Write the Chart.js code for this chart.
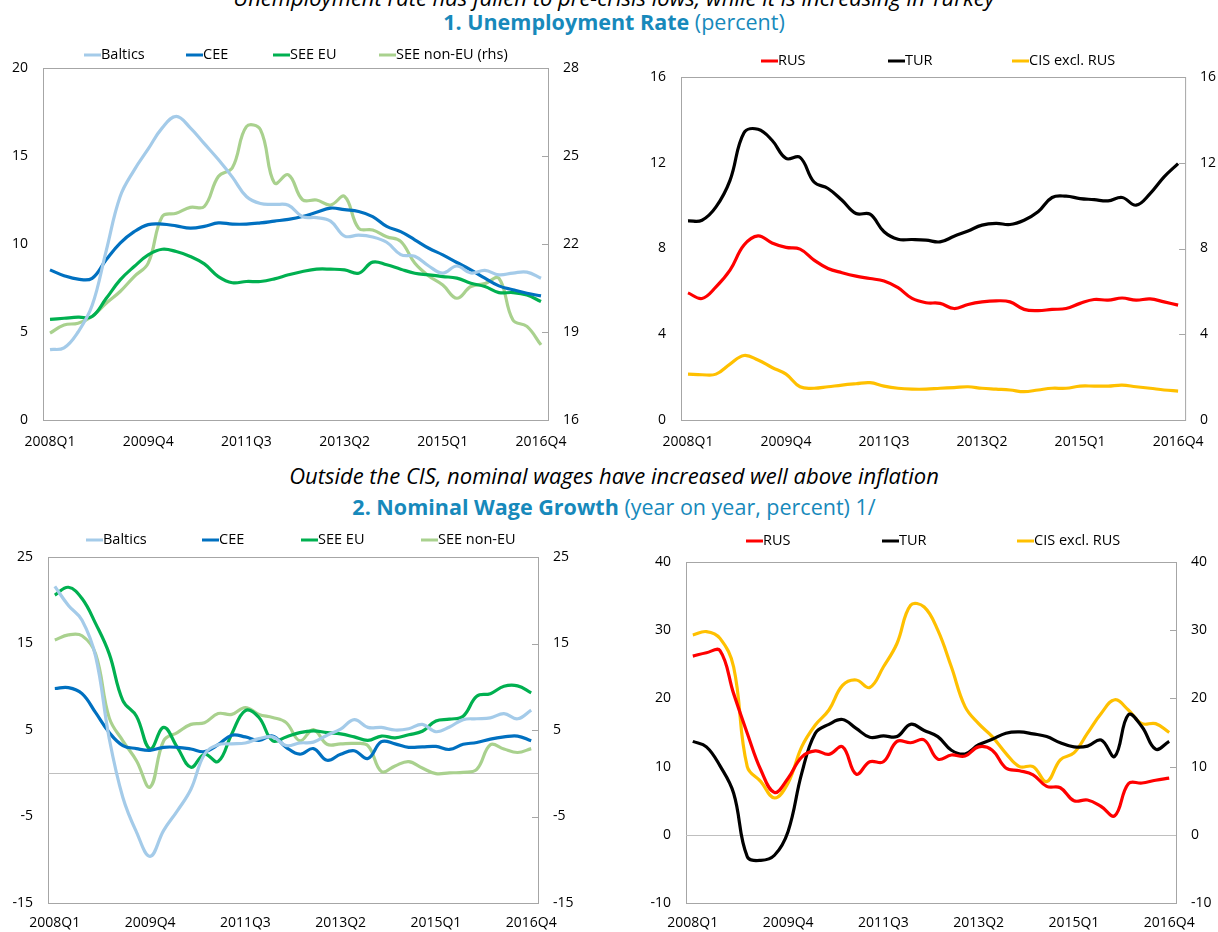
<!DOCTYPE html>
<html lang="en">
<head>
<meta charset="UTF-8" />
<title>Unemployment and Nominal Wage Growth</title>
<script src="https://cdn.jsdelivr.net/npm/chart.js"></script>
<style>
  body { margin: 0; width: 1218px; height: 932px; position: relative; overflow: hidden; background: #fff; font-family: "Open Sans", sans-serif; }
  .txt { position: absolute; left: 0; width: 1228px; text-align: center; line-height: 20px; white-space: nowrap; }
  .sub { font-style: italic; color: #000; font-size: 22px; }
  .ttl { color: #1789bb; font-size: 21.5px; }
  .box { position: absolute; }
</style>
</head>
<body>

<div class="txt sub" style="top:-13px">Unemployment rate has fallen to pre-crisis lows, while it is increasing in Turkey</div>
<div class="txt ttl" style="top:12px"><b>1. Unemployment Rate</b> (percent)</div>
<div class="txt sub" style="top:465px">Outside the CIS, nominal wages have increased well above inflation</div>
<div class="txt ttl" style="top:497px"><b>2. Nominal Wage Growth</b> (year on year, percent) 1/</div>

<div class="box" style="left:0;top:40px"><canvas id="c1" width="600" height="420"></canvas></div>
<div class="box" style="left:620px;top:40px"><canvas id="c2" width="598" height="420"></canvas></div>
<div class="box" style="left:0;top:520px"><canvas id="c3" width="600" height="412"></canvas></div>
<div class="box" style="left:620px;top:520px"><canvas id="c4" width="598" height="412"></canvas></div>

<script>
  const quarters = [
    '2008Q1','2008Q2','2008Q3','2008Q4','2009Q1','2009Q2','2009Q3','2009Q4',
    '2010Q1','2010Q2','2010Q3','2010Q4','2011Q1','2011Q2','2011Q3','2011Q4',
    '2012Q1','2012Q2','2012Q3','2012Q4','2013Q1','2013Q2','2013Q3','2013Q4',
    '2014Q1','2014Q2','2014Q3','2014Q4','2015Q1','2015Q2','2015Q3','2015Q4',
    '2016Q1','2016Q2','2016Q3','2016Q4'
  ];

  // 1. unemployment rate, percent
  const uBaltics  = [4.0,4.1,5.0,6.5,9.6,12.7,14.2,15.4,16.6,17.25,16.6,15.7,14.8,13.8,12.7,12.3,12.25,12.2,11.55,11.5,11.3,10.45,10.5,10.4,10.1,9.4,9.3,8.75,8.35,8.75,8.35,8.5,8.25,8.35,8.4,8.05];
  const uCEE      = [8.53,8.2,8.0,8.05,9.1,10.05,10.7,11.1,11.13,11.03,10.9,11.0,11.2,11.13,11.13,11.2,11.3,11.4,11.56,11.8,12.04,11.95,11.85,11.56,11.0,10.7,10.24,9.76,9.38,8.95,8.53,8.06,7.62,7.4,7.2,7.05];
  const uSeeEU    = [5.72,5.78,5.84,5.88,6.9,7.96,8.72,9.38,9.7,9.57,9.29,8.87,8.15,7.8,7.87,7.87,8.02,8.25,8.44,8.57,8.57,8.53,8.34,8.97,8.82,8.57,8.34,8.25,8.15,8.06,7.77,7.58,7.24,7.24,7.1,6.73];
  const uSeeNonEU = [18.96,19.24,19.3,19.53,19.98,20.38,20.89,21.35,22.94,23.05,23.25,23.28,24.3,24.6,26.0,25.9,24.08,24.36,23.51,23.5,23.33,23.62,22.54,22.48,22.25,22.09,21.35,20.91,20.6,20.15,20.55,20.65,20.83,19.41,19.19,18.56];
  const uRUS      = [5.93,5.67,6.21,6.99,8.16,8.59,8.26,8.05,7.97,7.46,7.07,6.87,6.71,6.6,6.48,6.17,5.67,5.47,5.44,5.2,5.39,5.51,5.56,5.51,5.16,5.1,5.16,5.2,5.44,5.62,5.59,5.69,5.59,5.65,5.51,5.36];
  const uTUR      = [9.29,9.32,9.94,11.18,13.4,13.56,13.05,12.2,12.25,11.1,10.8,10.25,9.63,9.6,8.78,8.43,8.42,8.39,8.31,8.57,8.82,9.09,9.17,9.12,9.32,9.71,10.38,10.44,10.33,10.28,10.22,10.38,10.02,10.56,11.34,11.96];
  const uCIS      = [2.14,2.11,2.14,2.61,3.01,2.8,2.45,2.14,1.55,1.48,1.55,1.63,1.69,1.74,1.58,1.48,1.44,1.44,1.48,1.51,1.55,1.48,1.44,1.4,1.32,1.4,1.48,1.48,1.58,1.58,1.58,1.63,1.55,1.48,1.4,1.35];

  // 2. nominal wage growth, yoy percent
  const wBaltics  = [21.6,19.4,17.7,13.5,4.0,-2.8,-6.8,-9.6,-6.6,-4.35,-1.85,2.2,3.3,3.4,3.5,4.0,4.2,3.2,3.5,3.6,4.4,5.1,6.2,5.3,5.3,5.0,5.15,5.65,4.8,5.35,6.2,6.3,6.4,6.9,6.3,7.3];
  const wCEE      = [9.8,9.9,9.2,7.0,4.7,3.2,2.85,2.65,3.0,3.0,2.8,2.5,3.3,4.4,4.2,3.8,4.3,3.0,2.2,2.85,1.5,2.2,2.6,1.7,3.65,3.4,3.0,3.05,3.1,2.75,3.35,3.55,3.95,4.2,4.3,3.75];
  const wSeeEU    = [20.6,21.5,20.2,17.3,13.8,8.4,6.6,2.8,5.3,3.0,0.7,2.2,1.35,4.55,7.25,6.45,3.75,4.2,4.7,4.9,4.7,4.55,4.2,3.8,4.3,4.1,4.45,4.85,6.05,6.25,6.6,8.9,9.2,10.05,10.1,9.3];
  const wSeeNonEU = [15.4,16.0,15.9,13.8,6.4,3.75,1.45,-1.6,3.75,4.7,5.65,5.85,6.9,6.8,7.6,6.8,6.45,5.85,3.75,5.05,3.35,3.4,3.45,3.2,0.2,0.85,1.35,0.6,-0.05,0.05,0.1,0.45,3.3,2.8,2.4,2.85];
  const wRUS      = [26.2,26.7,27.0,20.7,14.9,9.5,6.2,8.3,11.4,12.3,11.8,12.9,8.9,10.7,10.7,13.7,13.5,13.9,11.1,11.7,11.55,12.9,12.4,9.8,9.4,8.8,7.1,6.9,5.0,5.1,4.15,2.8,7.5,7.6,8.0,8.3];
  const wTUR      = [13.7,12.9,10.1,6.1,-3.2,-3.75,-3.0,0.5,9.0,14.9,16.2,16.9,15.6,14.3,14.5,14.4,16.2,15.3,14.4,12.4,11.85,13.2,14.0,14.9,15.1,14.8,14.4,13.5,12.9,13.0,13.9,11.5,17.6,15.85,12.55,13.7];
  const wCIS      = [29.3,29.8,28.8,24.6,10.0,7.8,5.4,7.6,12.9,16.1,18.3,21.9,22.7,21.6,24.6,28.05,33.65,33.4,30.0,24.6,18.8,16.3,14.4,11.95,10.0,10.0,7.8,11.0,12.0,14.9,17.8,19.8,18.3,16.3,16.3,15.0];

  const FONT = { family: 'Open Sans', size: 14 };
  const GRAY = '#a6a6a6';

  // plot box, zero line, short inner ticks on the right side
  const framePlugin = {
    id: 'frame',
    beforeDatasetsDraw(chart) {
      const { ctx, chartArea: a } = chart;
      ctx.save();
      ctx.strokeStyle = GRAY;
      ctx.lineWidth = 1;
      ctx.strokeRect(a.left + 0.5, a.top + 0.5, a.width, a.height);
      const ry = chart.scales.y2;
      ry.ticks.forEach((t, i) => {
        if (i === 0 || i === ry.ticks.length - 1) return;
        const py = Math.round(ry.getPixelForValue(t.value)) + 0.5;
        ctx.beginPath();
        ctx.moveTo(a.right - 6, py);
        ctx.lineTo(a.right, py);
        ctx.stroke();
      });
      const y = chart.scales.y;
      if (y.min < 0 && y.max > 0) {
        const zy = Math.round(y.getPixelForValue(0)) + 0.5;
        ctx.strokeStyle = '#bfbfbf';
        ctx.beginPath();
        ctx.moveTo(a.left, zy);
        ctx.lineTo(a.right, zy);
        ctx.stroke();
      }
      ctx.restore();
    }
  };

  // Excel-style legend: fixed slots across the top
  const legendPlugin = {
    id: 'slotLegend',
    afterDraw(chart, args, opts) {
      const { ctx } = chart;
      ctx.save();
      ctx.font = '14.5px "Open Sans"';
      ctx.textBaseline = 'middle';
      chart.data.datasets.forEach((ds, i) => {
        const x = opts.xs[i];
        ctx.strokeStyle = ds.borderColor;
        ctx.lineWidth = 3;
        ctx.beginPath();
        ctx.moveTo(x, opts.y);
        ctx.lineTo(x + 17, opts.y);
        ctx.stroke();
        ctx.fillStyle = '#000';
        ctx.fillText(ds.label, x + 17, opts.y);
      });
      ctx.restore();
    }
  };

  function yAxis(pos, min, max, step, width) {
    return {
      position: pos, min, max,
      border: { display: false },
      grid: { display: false, drawTicks: false },
      ticks: { stepSize: step, padding: 15, color: '#000', font: FONT },
      afterFit(s) { s.width = width; }
    };
  }

  function xAxis(height, pad) {
    return {
      type: 'category',
      offset: true,
      border: { display: false },
      grid: { display: false, drawTicks: false },
      ticks: {
        autoSkip: false, maxRotation: 0, padding: pad, color: '#000', font: FONT,
        callback(v, i) { return i % 7 === 0 ? this.getLabelForValue(v) : ''; }
      },
      afterFit(s) { s.height = height; }
    };
  }

  function line(label, data, color, axis) {
    return {
      label, data, yAxisID: axis || 'y',
      borderColor: color, backgroundColor: color,
      borderWidth: 3.2, pointRadius: 0, tension: 0.4, fill: false
    };
  }

  function makeChart(id, datasets, cfg) {
    new Chart(document.getElementById(id), {
      type: 'line',
      data: { labels: quarters, datasets },
      options: {
        responsive: false,
        animation: false,
        layout: { padding: { top: cfg.top, left: 0, right: 0, bottom: 0 } },
        plugins: {
          legend: { display: false },
          tooltip: { enabled: false },
          slotLegend: { xs: cfg.legendX, y: cfg.legendY }
        },
        scales: {
          x: xAxis(cfg.xh, cfg.xpad),
          y: yAxis('left', cfg.l[0], cfg.l[1], cfg.l[2], cfg.lw),
          y2: yAxis('right', cfg.r[0], cfg.r[1], cfg.r[2], cfg.rw)
        }
      },
      plugins: [framePlugin, legendPlugin]
    });
  }

  makeChart('c1', [
    line('Baltics', uBaltics, '#a4cbe9'),
    line('CEE', uCEE, '#0070c0'),
    line('SEE EU', uSeeEU, '#00b050'),
    line('SEE non-EU (rhs)', uSeeNonEU, '#a9d18e', 'y2')
  ], { top: 28, xh: 40, xpad: 14, l: [0, 20, 5], r: [16, 28, 3], lw: 43, rw: 52, legendX: [84, 186, 273, 379], legendY: 15 });

  makeChart('c2', [
    line('RUS', uRUS, '#ff0000'),
    line('TUR', uTUR, '#000000'),
    line('CIS excl. RUS', uCIS, '#ffc000')
  ], { top: 37, xh: 40, xpad: 14, l: [0, 16, 4], r: [0, 16, 4], lw: 61, rw: 32, legendX: [141, 268, 392], legendY: 21 });

  makeChart('c3', [
    line('Baltics', wBaltics, '#a4cbe9'),
    line('CEE', wCEE, '#0070c0'),
    line('SEE EU', wSeeEU, '#00b050'),
    line('SEE non-EU', wSeeNonEU, '#a9d18e')
  ], { top: 37, xh: 29, xpad: 12, l: [-15, 25, 10], r: [-15, 25, 10], lw: 48, rw: 62, legendX: [86, 202, 301, 421], legendY: 20 });

  makeChart('c4', [
    line('RUS', wRUS, '#ff0000'),
    line('TUR', wTUR, '#000000'),
    line('CIS excl. RUS', wCIS, '#ffc000')
  ], { top: 42, xh: 29, xpad: 12, l: [-10, 40, 10], r: [-10, 40, 10], lw: 66, rw: 42, legendX: [126, 262, 397], legendY: 21 });
</script>

</body>
</html>
